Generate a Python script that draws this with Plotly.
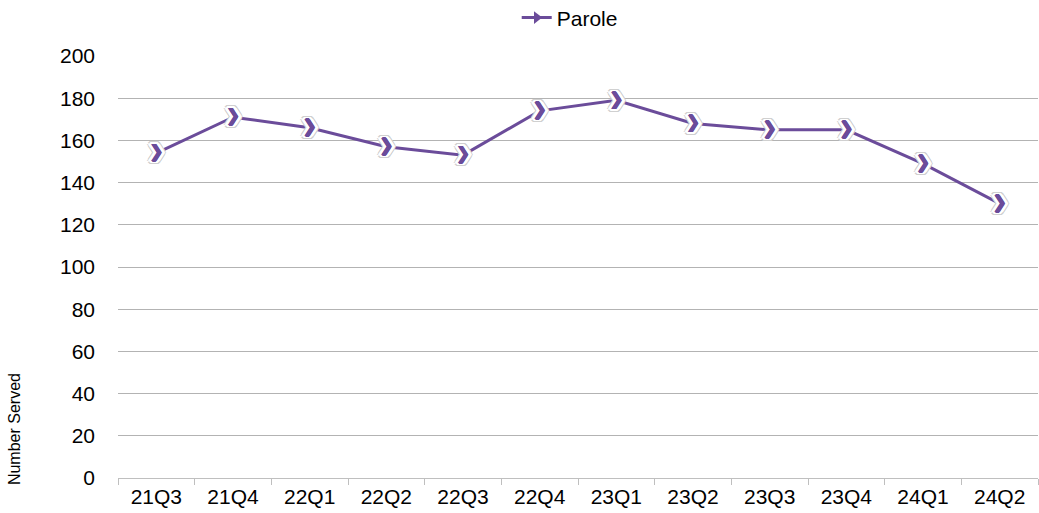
import plotly.graph_objects as go

quarters = ["21Q3", "21Q4", "22Q1", "22Q2", "22Q3", "22Q4", "23Q1", "23Q2", "23Q3", "23Q4", "24Q1", "24Q2"]
parole = [154, 171, 166, 157, 153, 174, 179, 168, 165, 165, 149, 130]

purple = "#6B4C9A"
FONT = "Liberation Sans, Arial, sans-serif"
chev = ["❯"] * len(parole)

# outline halo built from text shadows: purple thickening, white ring, grey ring
shadows = []
for dx, dy in [(0.7, 0), (-0.7, 0), (0, 0.7), (0, -0.7)]:
    shadows.append(f"{dx}px {dy}px 0 {purple}")
ring_w = [(-3, 0), (3, 0), (0, -2), (0, 2), (-2, -2), (2, -2), (-2, 2), (2, 2),
          (-4, 0), (4, 0), (-1, -2), (1, 2), (-1, 2), (1, -2), (-3, -1), (3, 1), (-3, 1), (3, -1)]
for dx, dy in ring_w:
    shadows.append(f"{dx}px {dy}px 0 white")
ring_g = [(-5, 0), (5, 0), (0, -3), (0, 3), (-3, -3), (3, -3), (-3, 3), (3, 3),
          (-4, -2), (4, 2), (-4, 2), (4, -2)]
for dx, dy in ring_g:
    shadows.append(f"{dx}px {dy}px 0 #d0d0d0")
shadow_css = ", ".join(shadows)

fig = go.Figure()
fig.add_trace(go.Scatter(
    x=quarters, y=parole, mode="lines", showlegend=False,
    line=dict(color=purple, width=3),
))
fig.add_trace(go.Scatter(
    x=quarters, y=parole, mode="text", showlegend=False, hoverinfo="skip",
    text=chev, textposition="middle center",
    textfont=dict(family="DejaVu Sans", size=17, color=purple, shadow=shadow_css),
))
fig.add_trace(go.Scatter(
    x=[None], y=[None], mode="lines+markers", name="Parole",
    line=dict(color=purple, width=3),
    marker=dict(symbol="triangle-right", size=11, color=purple),
))

fig.update_layout(
    width=1039, height=513,
    margin=dict(l=118, r=1, t=56, b=35, autoexpand=False),
    paper_bgcolor="white", plot_bgcolor="white",
    font=dict(family=FONT, size=21, color="#000000"),
    legend=dict(orientation="h", x=0.491, xanchor="center", y=0.965, yanchor="middle",
                yref="container", font=dict(size=21, family=FONT)),
    xaxis=dict(type="category", range=[-0.5, len(quarters) - 0.5], showgrid=False,
               showline=True, linecolor="#bfbfbf",
               ticks="outside", tickson="boundaries", ticklen=6, tickcolor="#bfbfbf",
               tickfont=dict(size=21), automargin=False),
    yaxis=dict(range=[0, 200], dtick=20, showgrid=True, gridcolor="#b3b3b3", gridwidth=1,
               zeroline=False, showline=False, ticks="", ticklabelstandoff=22,
               tickfont=dict(size=21), automargin=False),
    annotations=[dict(text="Number Served", xref="paper", yref="paper",
                      x=-0.113, y=0.116, xanchor="center", yanchor="middle",
                      showarrow=False, textangle=-90, font=dict(size=16, family=FONT))],
)
fig.add_shape(type="line", xref="paper", yref="y", x0=0, x1=0, y0=0, y1=-3,
              line=dict(color="#bfbfbf", width=1))
fig.write_html("out.html", config={"displayModeBar": False},
               post_script="document.body.style.margin='0';")
